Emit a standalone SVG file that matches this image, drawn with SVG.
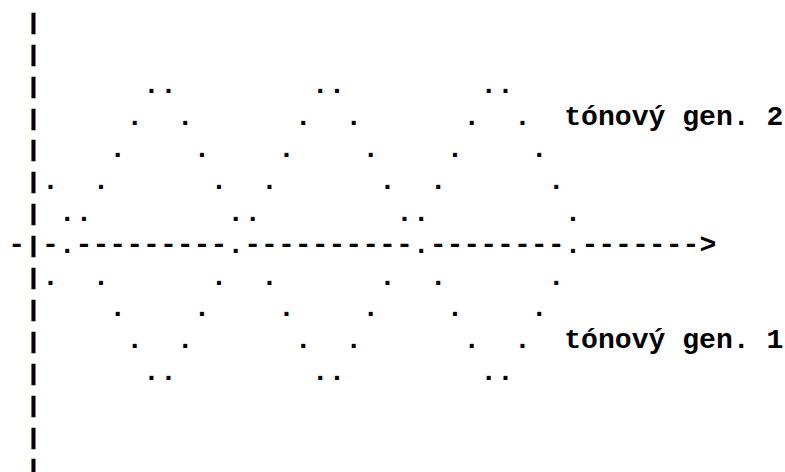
<svg xmlns="http://www.w3.org/2000/svg" width="785" height="472" viewBox="0 0 785 472">
<style>
.t{font-family:"Liberation Mono","Courier New",monospace;font-size:28.1px;font-weight:bold;fill:#000;white-space:pre}
.bar{stroke:#000;stroke-width:0.4px}
</style>
<rect width="785" height="472" fill="#fff"/>
<g id="axis-y" class="t">
<text class="bar" transform="translate(25.05,28.8) scale(1,0.8)">|</text>
<text class="bar" transform="translate(25.05,60.7) scale(1,0.8)">|</text>
<text class="bar" transform="translate(25.05,92.6) scale(1,0.8)">|</text>
<text class="bar" transform="translate(25.05,124.5) scale(1,0.8)">|</text>
<text class="bar" transform="translate(25.05,156.4) scale(1,0.8)">|</text>
<text class="bar" transform="translate(25.05,188.3) scale(1,0.8)">|</text>
<text class="bar" transform="translate(25.05,220.2) scale(1,0.8)">|</text>
<text class="bar" transform="translate(25.05,284) scale(1,0.8)">|</text>
<text class="bar" transform="translate(25.05,315.9) scale(1,0.8)">|</text>
<text class="bar" transform="translate(25.05,347.8) scale(1,0.8)">|</text>
<text class="bar" transform="translate(25.05,379.7) scale(1,0.8)">|</text>
<text class="bar" transform="translate(25.05,411.6) scale(1,0.8)">|</text>
<text class="bar" transform="translate(25.05,443.5) scale(1,0.8)">|</text>
<text class="bar" transform="translate(25.05,475.4) scale(1,0.8)">|</text>
</g>
<g id="axis-x" class="t">
<text x="8.2" y="252.6" xml:space="preserve">-</text>
<text class="bar" transform="translate(25.05,252.1) scale(1,0.8)">|</text>
<text x="41.9" y="252.6" xml:space="preserve">-.---------.----------.--------.-------&gt;</text>
</g>
<g id="tone-gen-2" class="t">
<text x="41.9" y="93.1" xml:space="preserve">      ..        ..        ..</text>
<text x="41.9" y="125" xml:space="preserve">     .  .      .  .      .  .</text>
<text x="41.9" y="156.9" xml:space="preserve">    .    .    .    .    .    .</text>
<text x="41.9" y="188.8" xml:space="preserve">.  .      .  .      .  .      .</text>
<text x="41.9" y="220.7" xml:space="preserve"> ..        ..        ..        .</text>
<text x="564.25" y="125" xml:space="preserve">tónový gen. 2</text>
</g>
<g id="tone-gen-1" class="t">
<text x="41.9" y="284.5" xml:space="preserve">.  .      .  .      .  .      .</text>
<text x="41.9" y="316.4" xml:space="preserve">    .    .    .    .    .    .</text>
<text x="41.9" y="348.3" xml:space="preserve">     .  .      .  .      .  .</text>
<text x="41.9" y="380.2" xml:space="preserve">      ..        ..        ..</text>
<text x="564.25" y="348.3" xml:space="preserve">tónový gen. 1</text>
</g>
</svg>
